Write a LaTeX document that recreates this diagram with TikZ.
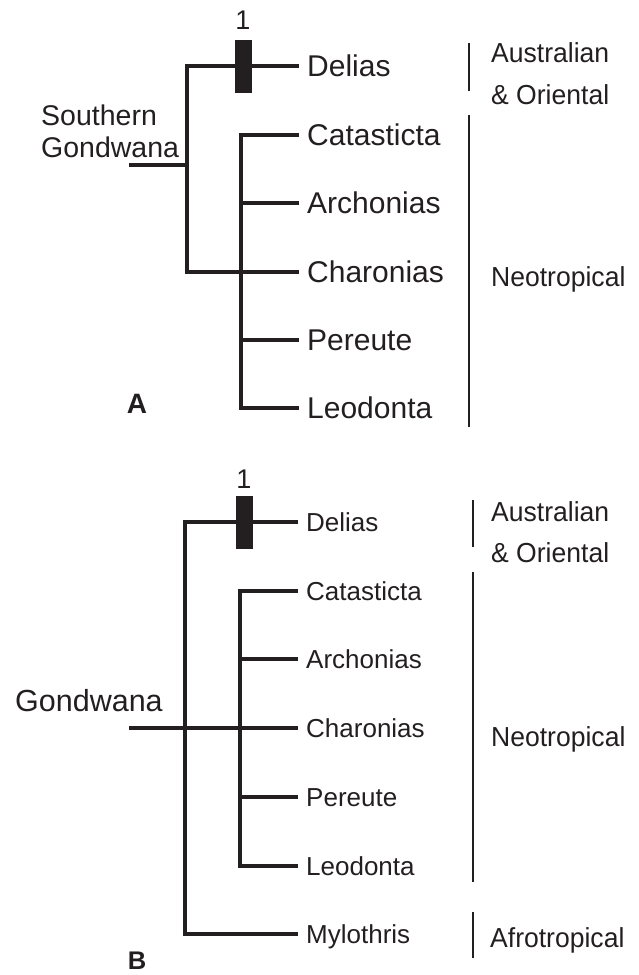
\documentclass[tikz,border=0pt]{standalone}
\usepackage{fontspec}
\setmainfont{Liberation Sans}
\definecolor{ink}{HTML}{231F20}
\begin{document}
\begin{tikzpicture}[x=1pt,y=-1pt,
  tree/.style={draw=ink,line width=3.3pt,line join=miter},
  brk/.style={draw=ink,line width=2.2pt},
  bar/.style={fill=ink,inner sep=0pt,minimum width=17pt,minimum height=53pt},
  taxA/.style={anchor=west,inner xsep=8pt,inner ysep=0pt,text=ink,font=\fontsize{30}{34}\selectfont,text height=21.5pt,text depth=0pt},
  taxB/.style={anchor=west,inner xsep=8pt,inner ysep=0pt,text=ink,font=\fontsize{26}{30}\selectfont,text height=18.6pt,text depth=0pt},
  region/.style={anchor=west,inner sep=0pt,text=ink,font=\fontsize{27.5}{30}\selectfont,xscale=0.965,text height=19.7pt,text depth=0pt},
  one/.style={inner sep=0pt,text=ink,font=\fontsize{27}{30}\selectfont,text height=19.3pt,text depth=0pt},
  panel/.style={inner sep=0pt,text=ink,font=\bfseries\fontsize{28}{30}\selectfont,text height=20pt,text depth=0pt},
  anc/.style={anchor=west,inner sep=0pt,text=ink,text depth=0pt}]
\useasboundingbox (0,0) rectangle (638,975);

% ---------------- Panel A ----------------
\node[taxA] (deliasA) at (299,66) {Delias};
\node[taxA] (catA) at (299,135) {Catasticta};
\node[taxA] (archA) at (299,203) {Archonias};
\node[taxA] (charA) at (299,272) {Charonias};
\node[taxA] (perA) at (299,340) {Pereute};
\node[taxA] (leoA) at (299,408) {Leodonta};
\coordinate (rA) at (129,165);
\coordinate (nA) at (187,165);
\coordinate (iA) at (241,272);
\draw[tree] (rA) -- (nA);
\draw[tree] (deliasA.west) -| (nA) |- (charA.west);
\draw[tree] (catA.west) -| (iA) |- (leoA.west);
\draw[tree] (archA.west) -- (iA |- archA.west);
\draw[tree] (perA.west) -- (iA |- perA.west);
\node[bar] (barA) at (243,66.5) {};
\node[one] (oneA) at (243,19.5) {1};
\node[anc,font=\fontsize{28.5}{32}\selectfont,text height=20.4pt] (sgA1) at (41,115) {Southern};
\node[anc,font=\fontsize{28.5}{32}\selectfont,text height=20.4pt] (sgA2) at (41,147) {Gondwana};
\node[panel] (labA) at (137,403.5) {A};
\coordinate (bA1t) at (469,43);
\coordinate (bA1b) at (469,91);
\coordinate (bA2t) at (469,115);
\coordinate (bA2b) at (469,427);
\draw[brk] (bA1t) -- (bA1b);
\draw[brk] (bA2t) -- (bA2b);
\node[region] (ausA1) at (491,53) {Australian};
\node[region] (ausA2) at (491,95) {\& Oriental};
\node[region] (neoA) at (491,277) {Neotropical};

% ---------------- Panel B ----------------
\node[taxB] (deliasB) at (298,522) {Delias};
\node[taxB] (catB) at (298,591) {Catasticta};
\node[taxB] (archB) at (298,659) {Archonias};
\node[taxB] (charB) at (298,728) {Charonias};
\node[taxB] (perB) at (298,797) {Pereute};
\node[taxB] (leoB) at (298,866) {Leodonta};
\node[taxB] (myloB) at (298,934) {Mylothris};
\coordinate (rB) at (129,728);
\coordinate (nB) at (185,728);
\coordinate (iB) at (240,728);
\draw[tree] (rB) -- (charB.west);
\draw[tree] (deliasB.west) -| (nB) |- (myloB.west);
\draw[tree] (catB.west) -| (iB) |- (leoB.west);
\draw[tree] (archB.west) -- (iB |- archB.west);
\draw[tree] (perB.west) -- (iB |- perB.west);
\node[bar] (barB) at (244.5,522) {};
\node[one] (oneB) at (244,478.5) {1};
\node[anc,font=\fontsize{30.5}{34}\selectfont,text height=21.8pt] (gB) at (15,701) {Gondwana};
\node[panel,font=\bfseries\fontsize{25.5}{28}\selectfont,text height=18.3pt] (labB) at (137,960.5) {B};
\coordinate (bB1t) at (473,500);
\coordinate (bB1b) at (473,547);
\coordinate (bB2t) at (473,572);
\coordinate (bB2b) at (473,882);
\coordinate (bB3t) at (473,912);
\coordinate (bB3b) at (473,958);
\draw[brk] (bB1t) -- (bB1b);
\draw[brk] (bB2t) -- (bB2b);
\draw[brk] (bB3t) -- (bB3b);
\node[region] (ausB1) at (491,512) {Australian};
\node[region] (ausB2) at (491,553) {\& Oriental};
\node[region] (neoB) at (491,737) {Neotropical};
\node[region] (afrB) at (490,938) {Afrotropical};
\end{tikzpicture}
\end{document}
